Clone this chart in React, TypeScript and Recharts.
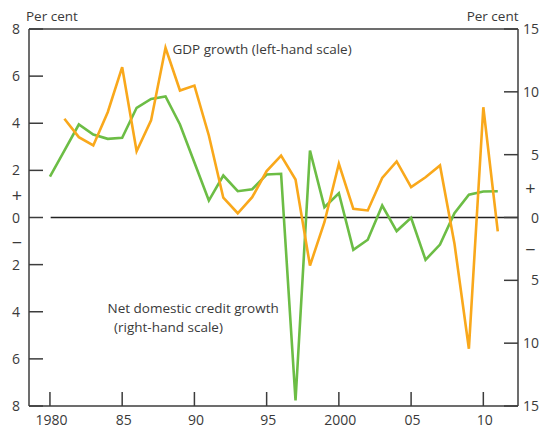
import { LineChart, Line, XAxis, YAxis, ReferenceLine } from "recharts";

const years = [
  1980, 1981, 1982, 1983, 1984, 1985, 1986, 1987, 1988, 1989,
  1990, 1991, 1992, 1993, 1994, 1995, 1996, 1997, 1998, 1999,
  2000, 2001, 2002, 2003, 2004, 2005, 2006, 2007, 2008, 2009,
  2010, 2011,
];

// GDP growth, left-hand scale (per cent)
const gdpGrowth: (number | null)[] = [
  null, 4.19, 3.41, 3.06, 4.47, 6.38, 2.81, 4.12, 7.2, 5.39,
  5.6, 3.48, 0.84, 0.18, 0.86, 1.97, 2.63, 1.61, -2.04, -0.2,
  2.28, 0.37, 0.3, 1.68, 2.38, 1.29, 1.71, 2.21, -1.1, -5.57,
  4.68, -0.59,
];

// Net domestic credit growth, right-hand scale (per cent)
const creditGrowth = [
  3.26, 5.33, 7.4, 6.6, 6.26, 6.34, 8.73, 9.44, 9.63, 7.4,
  4.38, 1.35, 3.34, 2.09, 2.25, 3.42, 3.48, -14.56, 5.33, 0.82,
  1.93, -2.57, -1.77, 0.95, -1.08, -0.02, -3.37, -2.15, 0.34, 1.81,
  2.07, 2.09,
];

const xTicks = [1980, 1985, 1990, 1995, 2000, 2005, 2010];
const xTickLabels = ["1980", "85", "90", "95", "2000", "05", "10"];
// the +/- markers sit between 0 and the first tick on each side
const leftTicks = [-8, -6, -4, -2, -1.1, 0, 0.9, 2, 4, 6, 8];
const rightTicks = [-15, -10, -5, -2.6, 0, 2.3, 5, 10, 15];

const data = years.map((y, i) => ({ year: y, gdp: gdpGrowth[i], credit: creditGrowth[i] }));

const FONT = "'Open Sans', sans-serif";
const INK = "#3a3a3a";
const AXIS = "#3c3c3c";
const ORANGE = "#F9A81B";
const GREEN = "#6CBD45";

const signLabel = (v: number) => {
  if (v === 0) return "0";
  if (Math.abs(v) < 3 && Math.abs(v) % 1 !== 0) return v > 0 ? "+" : "\u2212";
  return String(Math.abs(v));
};

const XTick = (props: any) => {
  const { x, y, payload } = props;
  const i = xTicks.indexOf(payload.value);
  return (
    <g>
      <line x1={x} x2={x} y1={y} y2={y - 14} stroke={AXIS} strokeWidth={1.5} />
      <text x={x + 1.5} y={y + 19} textAnchor="middle" fontSize={14} fill={INK} fontFamily={FONT}>
        {xTickLabels[i]}
      </text>
    </g>
  );
};

const LeftTick = (props: any) => {
  const { x, y, payload } = props;
  const lbl = signLabel(payload.value);
  const isSign = lbl === "+" || lbl === "\u2212";
  return (
    <g>
      {!isSign && <line x1={x} x2={x + 14} y1={y} y2={y} stroke={AXIS} strokeWidth={1.5} />}
      <text
        x={isSign ? x - 12 : x - 9}
        y={isSign ? y + 6 : y + 5}
        textAnchor={isSign ? "middle" : "end"}
        fontSize={isSign ? 18 : 14}
        fill={INK}
        fontFamily={FONT}
      >
        {lbl}
      </text>
    </g>
  );
};

const RightTick = (props: any) => {
  const { x, y, payload } = props;
  const lbl = signLabel(payload.value);
  const isSign = lbl === "+" || lbl === "\u2212";
  return (
    <g>
      {!isSign && <line x1={x} x2={x - 14} y1={y} y2={y} stroke={AXIS} strokeWidth={1.5} />}
      <text
        x={isSign ? x + 12.5 : x + 21}
        y={isSign ? y + 6 : y + 5}
        textAnchor={isSign ? "middle" : "end"}
        fontSize={isSign ? 18 : 14}
        fill={INK}
        fontFamily={FONT}
      >
        {lbl}
      </text>
    </g>
  );
};

export default function App() {
  return (
    <div style={{ position: "absolute", left: 0, top: 0, width: 544, height: 428, background: "#fff" }}>
      <LineChart width={544} height={428} data={data} margin={{ top: 29, right: 0, bottom: 0, left: 0 }}>
        <XAxis
          dataKey="year"
          type="number"
          domain={[1978.55, 2012.4]}
          ticks={xTicks}
          interval={0}
          height={22}
          tickSize={0}
          tickMargin={0}
          tickLine={false}
          tick={<XTick />}
          axisLine={{ stroke: AXIS, strokeWidth: 1.5 }}
          allowDataOverflow
        />
        <YAxis
          yAxisId="left"
          orientation="left"
          domain={[-8, 8]}
          ticks={leftTicks}
          interval={0}
          width={29}
          tickSize={0}
          tickMargin={0}
          tickLine={false}
          tick={<LeftTick />}
          axisLine={{ stroke: AXIS, strokeWidth: 1.5 }}
          allowDataOverflow
        />
        <YAxis
          yAxisId="right"
          orientation="right"
          domain={[-15, 15]}
          ticks={rightTicks}
          interval={0}
          width={26}
          tickSize={0}
          tickMargin={0}
          tickLine={false}
          tick={<RightTick />}
          axisLine={{ stroke: AXIS, strokeWidth: 1.5 }}
          allowDataOverflow
        />
        <ReferenceLine yAxisId="left" y={8} stroke={AXIS} strokeWidth={1.5} />
        <ReferenceLine
          yAxisId="left"
          segment={[{ x: 1980.05, y: 0 }, { x: 2012.4, y: 0 }]}
          stroke="#222"
          strokeWidth={1.5}
        />
        <Line
          yAxisId="right"
          dataKey="credit"
          stroke={GREEN}
          strokeWidth={2.6}
          dot={false}
          type="linear"
          isAnimationActive={false}
        />
        <Line
          yAxisId="left"
          dataKey="gdp"
          stroke={ORANGE}
          strokeWidth={2.6}
          dot={false}
          type="linear"
          connectNulls={false}
          isAnimationActive={false}
        />
      </LineChart>
      <svg
        width={544}
        height={428}
        style={{ position: "absolute", left: 0, top: 0, pointerEvents: "none" }}
        fontFamily={FONT}
        fill={INK}
      >
        <text x={26} y={21} fontSize={13.5}>Per cent</text>
        <text x={518.5} y={21} fontSize={13.5} textAnchor="end">Per cent</text>
        <text x={172.5} y={54} fontSize={13.5}>GDP growth (left-hand scale)</text>
        <text x={107.5} y={313} fontSize={13.5}>Net domestic credit growth</text>
        <text x={114} y={332} fontSize={13.5}>(right-hand scale)</text>
      </svg>
    </div>
  );
}
